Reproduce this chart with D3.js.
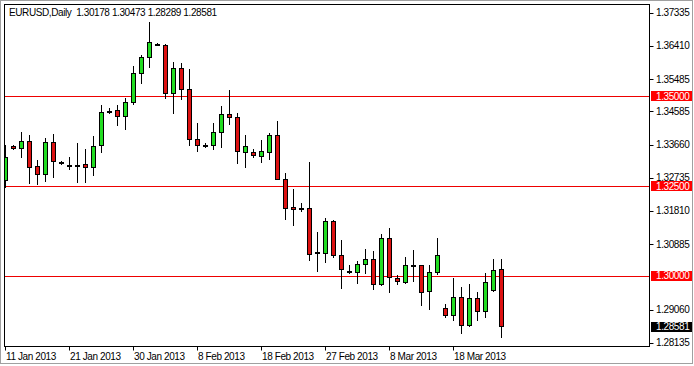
<!DOCTYPE html>
<html>
<head>
<meta charset="utf-8">
<script src="https://cdn.jsdelivr.net/npm/d3@7"></script>
<style>
  body { margin: 0; background: #fff; }
  text { font-family: "Liberation Sans", Arial, sans-serif; font-size: 10px; letter-spacing: -0.4px; }
</style>
</head>
<body>
<div class="container"></div>
<script>
const symbol = 'EURUSD,Daily';

const dates = [
  '2013-01-11', '2013-01-13', '2013-01-14', '2013-01-15', '2013-01-16', '2013-01-17', '2013-01-18',
  '2013-01-20', '2013-01-21', '2013-01-22', '2013-01-23', '2013-01-24', '2013-01-25',
  '2013-01-27', '2013-01-28', '2013-01-29', '2013-01-30', '2013-01-31', '2013-02-01',
  '2013-02-03', '2013-02-04', '2013-02-05', '2013-02-06', '2013-02-07', '2013-02-08',
  '2013-02-10', '2013-02-11', '2013-02-12', '2013-02-13', '2013-02-14', '2013-02-15',
  '2013-02-17', '2013-02-18', '2013-02-19', '2013-02-20', '2013-02-21', '2013-02-22',
  '2013-02-24', '2013-02-25', '2013-02-26', '2013-02-27', '2013-02-28', '2013-03-01',
  '2013-03-03', '2013-03-04', '2013-03-05', '2013-03-06', '2013-03-07', '2013-03-08',
  '2013-03-10', '2013-03-11', '2013-03-12', '2013-03-13', '2013-03-14', '2013-03-15',
  '2013-03-17', '2013-03-18', '2013-03-19', '2013-03-20', '2013-03-21', '2013-03-22',
  '2013-03-24', '2013-03-25',
];

const open = [
  1.32691, 1.33610, 1.33555, 1.33758, 1.33061, 1.32830, 1.33722,
  1.33173, 1.33098, 1.33098, 1.33109, 1.33042, 1.33647,
  1.34595, 1.34614, 1.34447, 1.34826, 1.35646, 1.36092,
  1.36454, 1.36435, 1.35088, 1.35785, 1.35200, 1.33806,
  1.33655, 1.33647, 1.34001, 1.34511, 1.34419, 1.33460,
  1.33452, 1.33340, 1.33460, 1.33926, 1.32699, 1.31918,
  1.31904, 1.31899, 1.30644, 1.30644, 1.31528, 1.30580,
  1.30115, 1.30115, 1.30321, 1.30460, 1.29763, 1.31046,
  1.29931, 1.29836, 1.30301, 1.30301, 1.29577, 1.30098,
  1.29094, 1.28908, 1.29401, 1.28629, 1.29373, 1.28999,
  1.29604, 1.30178,
];

const high = [
  1.33647, 1.33633, 1.34018, 1.33926, 1.33229, 1.33834, 1.33962,
  1.33187, 1.33304, 1.33702, 1.33535, 1.33898, 1.34762,
  1.34670, 1.34762, 1.34965, 1.35849, 1.36156, 1.37084,
  1.36477, 1.36454, 1.35969, 1.35941, 1.35757, 1.34268,
  1.33702, 1.34252, 1.34734, 1.35180, 1.34530, 1.33926,
  1.33535, 1.33786, 1.33973, 1.34324, 1.32858, 1.32420,
  1.32021, 1.33181, 1.31230, 1.31620, 1.31556, 1.30998,
  1.30301, 1.30421, 1.30739, 1.30692, 1.31166, 1.31325,
  1.30023, 1.30533, 1.30720, 1.30315, 1.30301, 1.31062,
  1.29214, 1.29931, 1.29696, 1.29772, 1.29557, 1.30087,
  1.30460, 1.30473,
];

const low = [
  1.32484, 1.33535, 1.33321, 1.32596, 1.32551, 1.32652, 1.32746,
  1.33117, 1.32969, 1.32624, 1.32607, 1.32810, 1.33460,
  1.34530, 1.34204, 1.34093, 1.34781, 1.35384, 1.35830,
  1.36435, 1.34949, 1.34547, 1.34921, 1.33647, 1.33488,
  1.33599, 1.33535, 1.33599, 1.34224, 1.33137, 1.33025,
  1.33321, 1.33181, 1.33256, 1.32685, 1.31575, 1.31417,
  1.31815, 1.30441, 1.30143, 1.30393, 1.30516, 1.29652,
  1.30087, 1.29791, 1.30070, 1.29624, 1.29735, 1.29540,
  1.29763, 1.29808, 1.29864, 1.29186, 1.29075, 1.30042,
  1.28860, 1.28768, 1.28414, 1.28601, 1.28768, 1.28860,
  1.29577, 1.28289,
];

const close = [
  1.33321, 1.33555, 1.33758, 1.33042, 1.32830, 1.33722, 1.33201,
  1.33180, 1.33095, 1.33100, 1.33014, 1.33627, 1.34558,
  1.34586, 1.34447, 1.34837, 1.35646, 1.36092, 1.36510,
  1.36449, 1.35088, 1.35785, 1.35200, 1.33806, 1.33647,
  1.33660, 1.34001, 1.34503, 1.34419, 1.33460, 1.33619,
  1.33360, 1.33480, 1.33926, 1.32691, 1.31899, 1.31854,
  1.31896, 1.30628, 1.30655, 1.31528, 1.30580, 1.30182,
  1.30120, 1.30329, 1.30460, 1.29763, 1.31046, 1.29959,
  1.29836, 1.30301, 1.30296, 1.29557, 1.30098, 1.30580,
  1.28888, 1.29418, 1.28609, 1.29373, 1.29019, 1.29819,
  1.30162, 1.28581,
];

const priceTicks = [1.37335, 1.36410, 1.35485, 1.34585, 1.33660, 1.32735, 1.31810, 1.30885, 1.29060, 1.28135];
const levels = [1.35, 1.325, 1.30];
const dateTicks = ['2013-01-11', '2013-01-21', '2013-01-30', '2013-02-08', '2013-02-18', '2013-02-27', '2013-03-08', '2013-03-18'];

const width = 694;
const height = 366;
const plot = { left: 4.5, top: 4.5, right: 649.5, bottom: 346.5 };

const bullColor = '#22dd22';
const bearColor = '#dd1111';
const levelColor = '#ee0000';

const parse = d3.timeParse('%Y-%m-%d');
const fmt = d3.timeFormat('%-d %b %Y');
const fix5 = d3.format('.5f');

const candles = dates.map((d, i) => ({ date: d, o: open[i], h: high[i], l: low[i], c: close[i] }));

const xScale = d3.scaleLinear()
  .domain([0, dates.length - 1])
  .range([5, 501]);

const yScale = d3.scaleLinear()
  .domain([1.28135, 1.37335])
  .range([342.7, 12.7]);

const px = v => Math.round(v) + 0.5;

const svg = d3.select('.container')
  .append('svg')
  .attr('width', width)
  .attr('height', height);

// outer frame
svg.append('rect')
  .attr('x', 0.5).attr('y', 0.5)
  .attr('width', width - 2).attr('height', height - 3)
  .attr('fill', '#fff')
  .attr('stroke', '#a0a0a0');

const clip = svg.append('clipPath').attr('id', 'plot-clip')
  .append('rect')
  .attr('x', plot.left).attr('y', plot.top)
  .attr('width', plot.right - plot.left).attr('height', plot.bottom - plot.top);

// horizontal levels
svg.append('g')
  .attr('class', 'levels')
  .selectAll('line')
  .data(levels)
  .enter()
  .append('line')
  .attr('x1', plot.left)
  .attr('x2', plot.right)
  .attr('y1', d => px(yScale(d)))
  .attr('y2', d => px(yScale(d)))
  .attr('stroke', levelColor);

// candles
const g = svg.append('g')
  .attr('class', 'candles')
  .attr('clip-path', 'url(#plot-clip)');

const candle = g.selectAll('g')
  .data(candles)
  .enter()
  .append('g');

candle.append('line')
  .attr('x1', (d, i) => px(xScale(i)))
  .attr('x2', (d, i) => px(xScale(i)))
  .attr('y1', d => Math.round(yScale(d.h)))
  .attr('y2', d => Math.round(yScale(d.l)) + 1)
  .attr('stroke', '#000');

candle.append('rect')
  .attr('x', (d, i) => px(xScale(i)) - 2)
  .attr('width', 4)
  .attr('y', d => px(yScale(Math.max(d.o, d.c))))
  .attr('height', d => Math.max(1, Math.round(Math.abs(yScale(d.o) - yScale(d.c)))))
  .attr('fill', d => (d.c >= d.o ? bullColor : bearColor))
  .attr('stroke', '#000');

// plot border
svg.append('rect')
  .attr('x', plot.left).attr('y', plot.top)
  .attr('width', plot.right - plot.left).attr('height', plot.bottom - plot.top)
  .attr('fill', 'none')
  .attr('stroke', '#000');

// price axis
const yAxis = svg.append('g').attr('class', 'y-axis');

yAxis.selectAll('line')
  .data(priceTicks)
  .enter()
  .append('line')
  .attr('x1', plot.right)
  .attr('x2', plot.right + 4)
  .attr('y1', d => px(yScale(d)))
  .attr('y2', d => px(yScale(d)))
  .attr('stroke', '#000');

yAxis.selectAll('text')
  .data(priceTicks)
  .enter()
  .append('text')
  .attr('x', 656)
  .attr('y', d => yScale(d) + 3.5)
  .attr('fill', '#000')
  .text(d => fix5(d));

// level price tags
const tags = svg.append('g').attr('class', 'tags')
  .selectAll('g')
  .data(levels.map(v => ({ v, fill: '#ff0000' })).concat([{ v: close[close.length - 1], fill: '#000' }]))
  .enter()
  .append('g');

tags.append('rect')
  .attr('x', 651)
  .attr('y', d => Math.round(yScale(d.v)) - 5)
  .attr('width', 41)
  .attr('height', 10)
  .attr('fill', d => d.fill);

tags.append('text')
  .attr('x', 656)
  .attr('y', d => yScale(d.v) + 3.5)
  .attr('fill', '#fff')
  .text(d => fix5(d.v));

// date axis
const xAxis = svg.append('g').attr('class', 'x-axis');
const tickIdx = dateTicks.map(d => dates.indexOf(d));

xAxis.selectAll('line')
  .data(tickIdx)
  .enter()
  .append('line')
  .attr('x1', d => px(xScale(d)))
  .attr('x2', d => px(xScale(d)))
  .attr('y1', plot.bottom)
  .attr('y2', plot.bottom + 4)
  .attr('stroke', '#000');

xAxis.selectAll('text')
  .data(tickIdx)
  .enter()
  .append('text')
  .attr('x', d => Math.round(xScale(d)) + 1)
  .attr('y', 359.5)
  .attr('fill', '#000')
  .text(d => fmt(parse(dates[d])));

// header
const last = candles[candles.length - 1];
svg.append('text')
  .attr('x', 9)
  .attr('y', 16)
  .attr('fill', '#000')
  .attr('xml:space', 'preserve')
  .text(`${symbol}  ${[last.o, last.h, last.l, last.c].map(fix5).join(' ')}`);
</script>
</body>
</html>
